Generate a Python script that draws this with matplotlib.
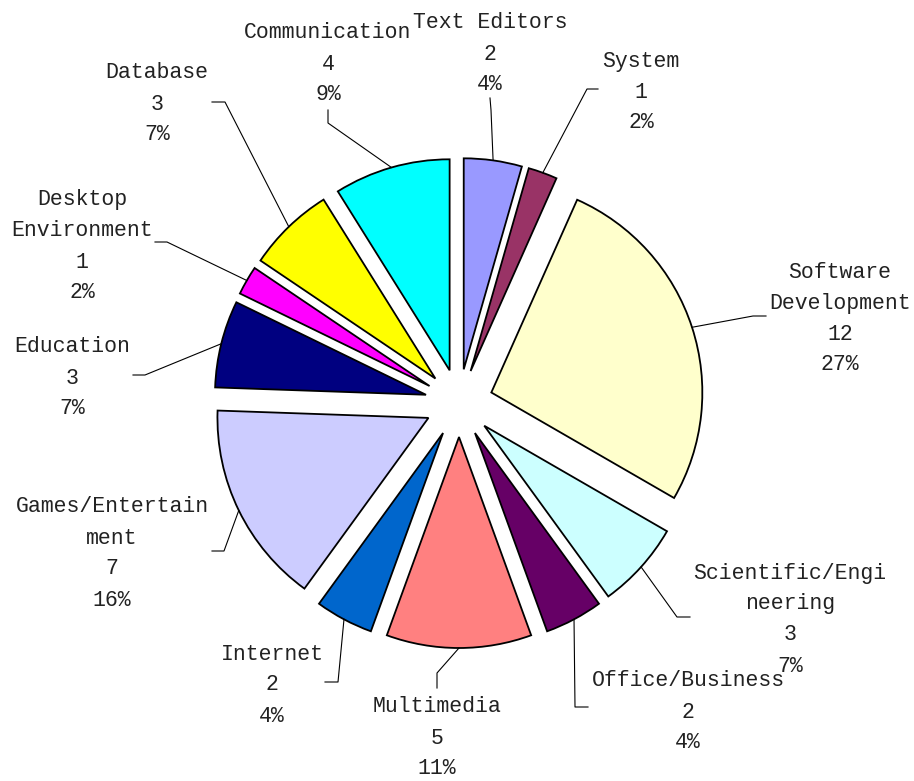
import matplotlib.pyplot as plt
import numpy as np

# data ---------------------------------------------------------------
categories = ["Text Editors", "System", "Software\nDevelopment",
              "Scientific/Engi\nneering", "Office/Business", "Multimedia",
              "Internet", "Games/Entertain\nment", "Education",
              "Desktop\nEnvironment", "Database", "Communication"]
counts = [2, 1, 12, 3, 2, 5, 2, 7, 3, 1, 3, 4]
colors = ["#9999FF", "#993366", "#FFFFCC", "#CCFFFF", "#660066", "#FF8080",
          "#0066CC", "#CCCCFF", "#000080", "#FF00FF", "#FFFF00", "#00FFFF"]

# layout (pixels, origin top-left) -----------------------------------
W, H = 914, 781
CX, CY, R = 459, 403, 211      # pie centre / radius in pixels
EXPL = 34 / R
LINE = 31                       # text line pitch

# label block: centre x, y of first line
label_pos = [(490, 23), (641, 61), (840, 272), (790, 573), (688, 681),
             (437, 707), (272, 654), (112, 507), (72, 347), (82, 200),
             (157, 73), (328, 33)]
# leader: elbow point, end point
leaders = [((491, 110), (490, 98)), ((587, 89), (598, 89)),
           ((753, 316), (766, 316)), ((677, 617), (690, 617)),
           ((575, 707), (588, 707)), ((437, 673), (437, 688)),
           ((338, 682), (325, 682)), ((224, 551), (212, 551)),
           ((145, 375), (133, 375)), ((167, 242), (155, 242)),
           ((225, 102), (212, 102)), ((328, 123), (328, 110))]


def px(x, y):
    return (x - CX) / R, (CY - y) / R


fig = plt.figure(figsize=(W / 100, H / 100), dpi=100)
ax = fig.add_axes([0, 0, 1, 1])

wedges, _ = ax.pie(counts, colors=colors, startangle=90, counterclock=False,
                   explode=[EXPL] * len(counts), radius=1,
                   wedgeprops=dict(edgecolor="black", linewidth=1.3))

ax.set_xlim(-CX / R, (W - CX) / R)
ax.set_ylim(-(H - CY) / R, CY / R)
ax.set_aspect("auto")
ax.axis("off")

total = sum(counts)
for w, name, n, (lx, ly), (elb, end) in zip(wedges, categories, counts,
                                              label_pos, leaders):
    # point on the arc at the middle of the wedge
    th = np.deg2rad((w.theta1 + w.theta2) / 2)
    cx, cy = w.center
    sx, sy = cx + np.cos(th), cy + np.sin(th)
    ex, ey = px(*elb)
    fx, fy = px(*end)
    ax.plot([sx, ex, fx], [sy, ey, fy], color="black", lw=0.8)

    lines = name.split("\n") + [str(n), f"{round(n / total * 100)}%"]
    for i, t in enumerate(lines):
        tx, ty = px(lx, ly + i * LINE)
        ax.text(tx, ty, t, ha="center", va="center", fontsize=15.5,
                family="Liberation Mono", color="#222222")

fig.savefig("out.png", dpi=100)
